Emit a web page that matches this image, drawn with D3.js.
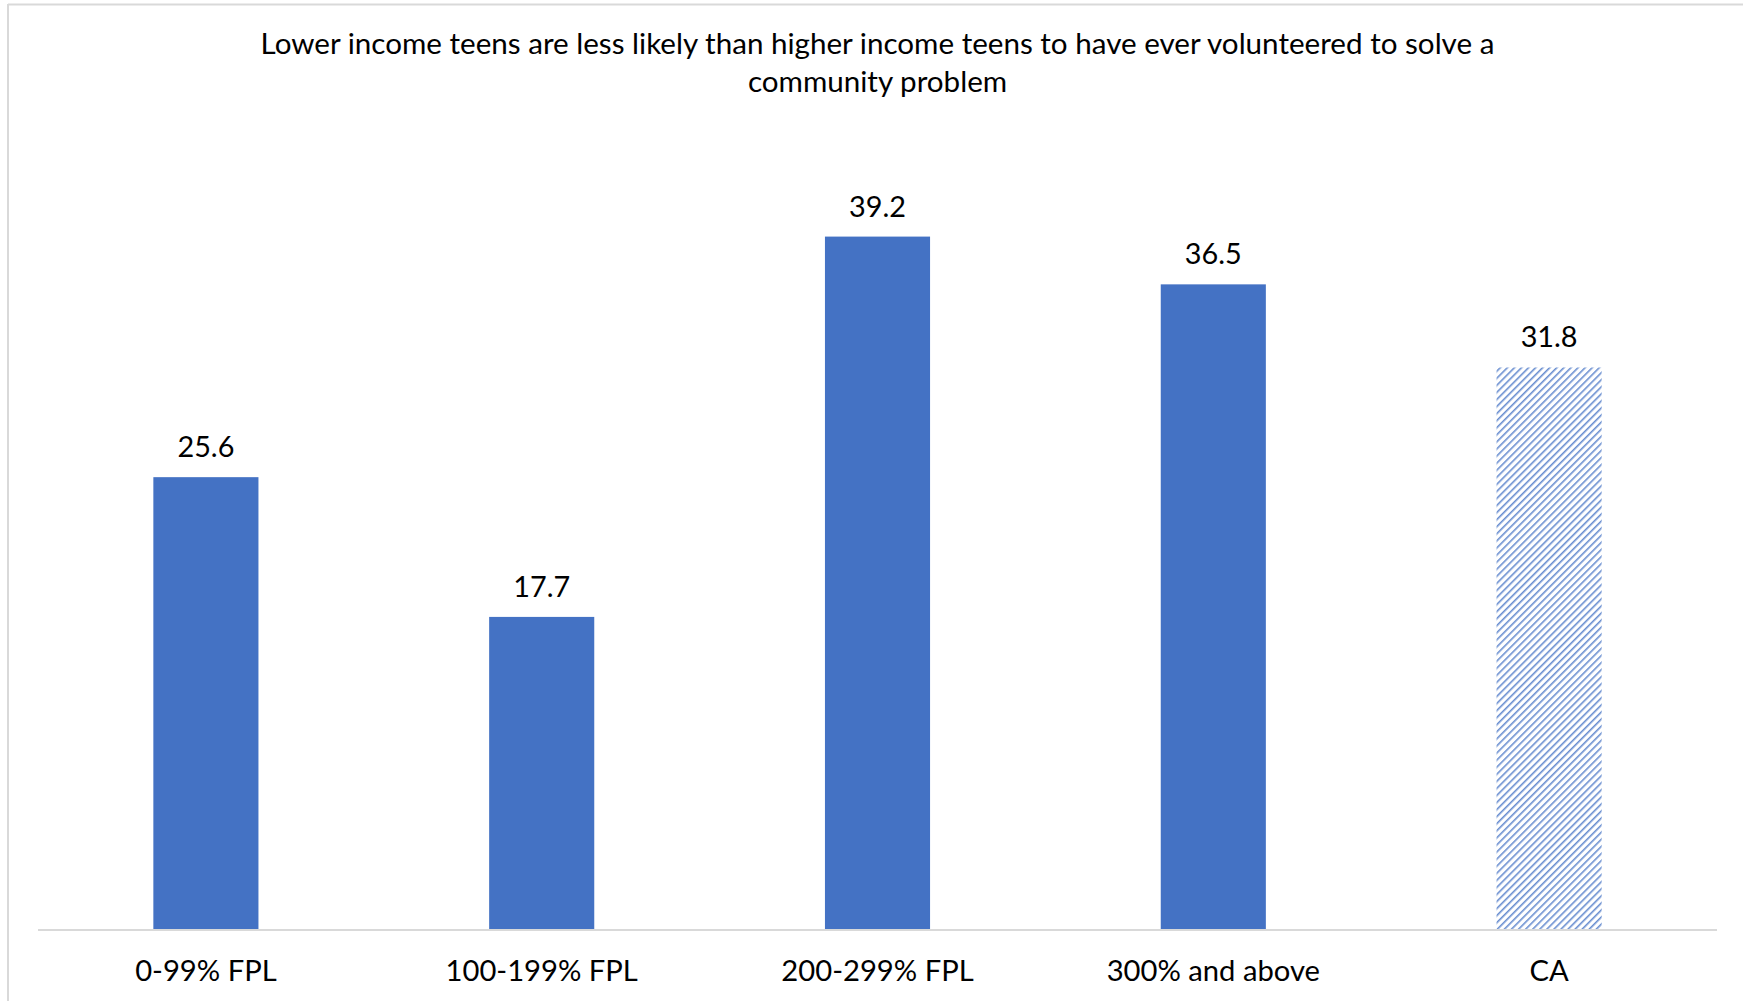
<!DOCTYPE html>
<html>
<head>
<meta charset="utf-8">
<script src="https://cdn.jsdelivr.net/npm/d3@7"></script>
<style>
  html, body { margin: 0; padding: 0; background: #fff; }
  svg { display: block; }
  text { font-family: Lato, "Open Sans", sans-serif; fill: #000; }
</style>
</head>
<body>
<svg id="chart" width="1743" height="1001"></svg>
<script>
// Share of teens who have ever volunteered to solve a community problem, by income
const categories = ["0-99% FPL", "100-199% FPL", "200-299% FPL", "300% and above", "CA"];
const values = [25.6, 17.7, 39.2, 36.5, 31.8];
const hatched = [false, false, false, false, true];
const titleLines = [
  "Lower income teens are less likely than higher income teens to have ever volunteered to solve a",
  "community problem"
];

const W = 1743, H = 1001;
const margin = { left: 38, right: 26, top: 134, bottom: 71 };
const svg = d3.select("#chart");
const blue = "#4472C4";

// Diagonal hatch for the statewide bar
const defs = svg.append("defs");
const pat = defs.append("pattern")
  .attr("id", "hatch")
  .attr("patternUnits", "userSpaceOnUse")
  .attr("width", 5).attr("height", 5)
  .attr("patternTransform", "rotate(45)");
pat.append("rect").attr("width", 5).attr("height", 5).attr("fill", "#fff");
pat.append("rect").attr("x", 0).attr("y", 0).attr("width", 1.6).attr("height", 5)
  .attr("fill", blue).attr("opacity", 0.8);

// Chart frame (top and left edges)
svg.append("line").attr("x1", 8).attr("x2", W).attr("y1", 4.5).attr("y2", 4.5)
  .attr("stroke", "#d9d9d9").attr("stroke-width", 2);
svg.append("line").attr("x1", 8).attr("x2", 8).attr("y1", 4).attr("y2", H)
  .attr("stroke", "#d9d9d9").attr("stroke-width", 2);

const x = d3.scaleBand()
  .domain(categories)
  .range([margin.left, W - margin.right])
  .paddingInner(0.687)
  .paddingOuter(0.3435);

const y = d3.scaleLinear()
  .domain([0, 45])
  .range([H - margin.bottom, margin.top]);

// Title
svg.append("g").selectAll("text")
  .data(titleLines)
  .join("text")
  .attr("x", (margin.left + W - margin.right) / 2)
  .attr("y", (d, i) => 54 + i * 38)
  .attr("text-anchor", "middle")
  .attr("font-size", 29.6)
  .text(d => d);

// Bars
svg.append("g").selectAll("rect")
  .data(categories)
  .join("rect")
  .attr("x", d => x(d))
  .attr("y", (d, i) => y(values[i]))
  .attr("width", x.bandwidth())
  .attr("height", (d, i) => y(0) - y(values[i]))
  .attr("fill", (d, i) => hatched[i] ? "url(#hatch)" : blue);

// Value labels
svg.append("g").selectAll("text")
  .data(categories)
  .join("text")
  .attr("x", d => x(d) + x.bandwidth() / 2)
  .attr("y", (d, i) => y(values[i]) - 20)
  .attr("text-anchor", "middle")
  .attr("font-size", 28.8)
  .text((d, i) => values[i].toFixed(1));

// Category axis
const axis = svg.append("g")
  .attr("transform", `translate(0,${y(0)})`)
  .call(d3.axisBottom(x).tickSize(0).tickPadding(0).tickSizeOuter(0));
axis.select(".domain").attr("stroke", "#d9d9d9").attr("stroke-width", 2)
  .attr("d", `M${margin.left},0H${W - margin.right}`);
axis.selectAll(".tick text")
  .attr("y", 51)
  .attr("dy", null)
  .attr("font-size", 29.2)
  .attr("font-family", "Lato, 'Open Sans', sans-serif")
  .attr("fill", "#000");
</script>
</body>
</html>
